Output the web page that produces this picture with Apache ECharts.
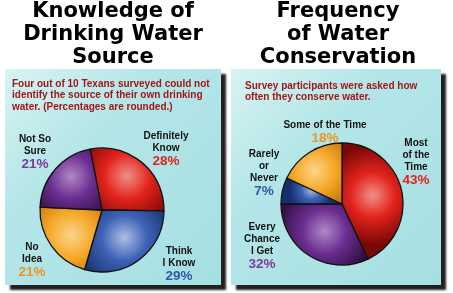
<!DOCTYPE html>
<html><head><meta charset="utf-8">
<script src="https://cdn.jsdelivr.net/npm/echarts@6/dist/echarts.min.js"></script>
<style>html,body{margin:0;padding:0;background:#fff}#c{width:453px;height:293px}</style>
</head><body><div id="c"></div>
<script>
// ---- data ----
var leftTitle = ['Knowledge of', 'Drinking Water', 'Source'];
var leftNote = ['Four out of 10 Texans surveyed could not', 'identify the source of their own drinking', 'water. (Percentages are rounded.)'];
var leftCats = [['Definitely', 'Know'], ['Think', 'I Know'], ['No', 'Idea'], ['Not So', 'Sure']];
var leftVals = [28, 29, 21, 21];

var rightTitle = ['Frequency', 'of Water', 'Conservation'];
var rightNote = ['Survey participants were asked how', 'often they conserve water.'];
var rightCats = [['Most', 'of the', 'Time'], ['Every', 'Chance', 'I Get'], ['Rarely', 'or', 'Never'], ['Some of the Time']];
var rightVals = [43, 32, 7, 18];

// ---- styles ----
var pal = {
  red:    {hi:'#f09088', base:'#e2231c', dark:'#7a0806', text:'#e0241e'},
  blue:   {hi:'#aebfe6', base:'#3d62b5', dark:'#16306e', text:'#2c5aaa'},
  orange: {hi:'#fcd58a', base:'#f5a828', dark:'#b86a08', text:'#ee9420'},
  purple: {hi:'#b088c6', base:'#6b2d90', dark:'#2a0c3c', text:'#7a3c9c'}
};
var leftCols = ['red', 'blue', 'orange', 'purple'];
var rightCols = ['red', 'purple', 'blue', 'orange'];
var leftLabelPos = [[166, 130], [179, 245], [32, 241], [35, 133]];
var rightLabelPos = [[416, 137], [262, 221], [264, 148], [325, 119]];

function grad(k) {
  var p = pal[k];
  return {type:'radial', x:0.5, y:0.45, r:0.8, colorStops:[
    {offset:0, color:p.hi}, {offset:0.45, color:p.base}, {offset:1, color:p.dark}]};
}
function pieData(cats, vals, cols) {
  return vals.map(function(v, i){
    return {name: cats[i].join(' '), value: v, itemStyle:{color: grad(cols[i])}};
  });
}
function labelEls(cats, vals, cols, pos) {
  return vals.map(function(v, i){
    var lines = cats[i].map(function(s){ return '{n|' + s + '}'; });
    lines.push('{p|' + v + '%}');
    return {type:'text', x: pos[i][0], y: pos[i][1], z: 50,
      style:{text: lines.join('\n'), textAlign:'center', textVerticalAlign:'top',
        rich:{
          n:{font:'bold 10px "Liberation Sans", Arial, sans-serif', fill:'#111', lineHeight:12, align:'center'},
          p:{font:'bold 13.5px "Liberation Sans", Arial, sans-serif', fill: pal[cols[i]].text, lineHeight:15, align:'center'}
        }}};
  });
}
function titleEl(lines, cx) {
  return {type:'text', x: cx, y: 0, z: 50, style:{text: lines.join('\n'), textAlign:'center', textVerticalAlign:'top',
    font:'bold 21px "DejaVu Sans", sans-serif', lineHeight:23, fill:'#000'}};
}
function noteEl(lines, x, y) {
  return {type:'text', x: x, y: y, z: 50, style:{text: lines.join('\n'), textAlign:'left', textVerticalAlign:'top',
    font:'bold 10px "Liberation Sans", Arial, sans-serif', lineHeight:11.8, fill:'#a01818'}};
}
function panel(x, y, w, h) {
  return {type:'rect', shape:{x:x, y:y, width:w, height:h}, z: 1,
    style:{fill:{type:'linear', x:0, y:0, x2:1, y2:1, colorStops:[
      {offset:0, color:'#d8f3f3'}, {offset:0.35, color:'#b4e6e8'}, {offset:1, color:'#a6dfe2'}]},
      shadowColor:'rgba(20,20,20,0.95)', shadowBlur:2, shadowOffsetX:5, shadowOffsetY:5}};
}

var graphics = [panel(5, 69, 216, 216), panel(231, 69, 210, 216),
  titleEl(leftTitle, 113), titleEl(rightTitle, 338),
  noteEl(leftNote, 12, 78), noteEl(rightNote, 245, 80)]
  .concat(labelEls(leftCats, leftVals, leftCols, leftLabelPos))
  .concat(labelEls(rightCats, rightVals, rightCols, rightLabelPos));

var chart = echarts.init(document.getElementById('c'), null, {renderer:'canvas'});
chart.setOption({
  animation:false,
  graphic: graphics,
  series:[
    {type:'pie', z:10, center:[102, 210], radius:[0, 62], startAngle:101, clockwise:true,
     label:{show:false}, labelLine:{show:false}, silent:true,
     itemStyle:{borderColor:'#111', borderWidth:1.3},
     data: pieData(leftCats, leftVals, leftCols)},
    {type:'pie', z:10, center:[342, 204], radius:[0, 61], startAngle:90, clockwise:true,
     label:{show:false}, labelLine:{show:false}, silent:true,
     itemStyle:{borderColor:'#111', borderWidth:1.3},
     data: pieData(rightCats, rightVals, rightCols)}
  ]
});
</script></body></html>
